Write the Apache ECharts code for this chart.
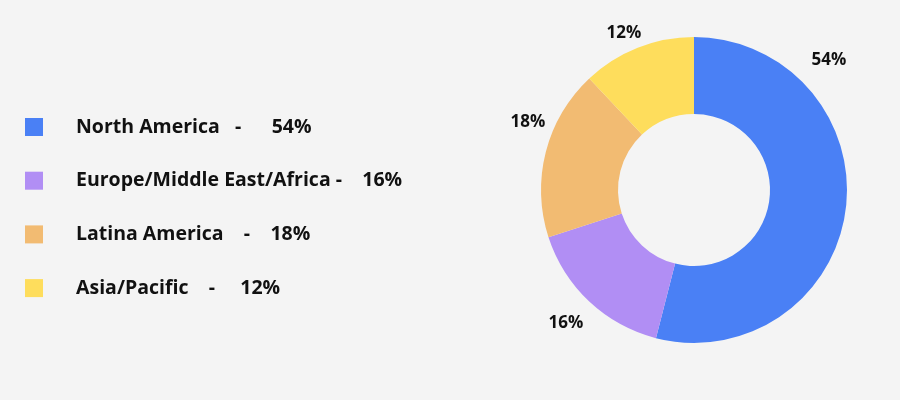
<!DOCTYPE html>
<html>
<head>
<meta charset="utf-8">
<script src="https://cdn.jsdelivr.net/npm/echarts@6/dist/echarts.min.js"></script>
<style>
  html, body { margin: 0; padding: 0; background: #f4f4f4; }
  #main { width: 900px; height: 400px; }
</style>
</head>
<body>
<div id="main"></div>
<script>
// data
var regions = ['North America', 'Europe/Middle East/Africa', 'Latina America', 'Asia/Pacific'];
var shares = [54, 16, 18, 12];
var legendText = ['North America   -      54%', 'Europe/Middle East/Africa -    16%', 'Latina America    -    18%', 'Asia/Pacific    -     12%'];
var colors = ['#4a80f5', '#b18ef4', '#f2bb72', '#fedd5c'];

// where the percentage labels sit around the ring
var labelSpots = [[829, 60], [566, 323], [528, 122], [624, 33]];

var myChart = echarts.init(document.getElementById('main'));

var option = {
    backgroundColor: '#f4f4f4',
    color: colors,
    legend: {
        orient: 'vertical',
        left: 20,
        top: 112,
        icon: 'rect',
        itemWidth: 18,
        itemHeight: 18,
        itemGap: 33.7,
        selectedMode: false,
        formatter: function (name) {
            return legendText[regions.indexOf(name)];
        },
        textStyle: {
            fontFamily: 'Open Sans',
            fontWeight: 'bold',
            fontSize: 19.5,
            color: '#111',
            padding: [0, 0, 0, 28]
        }
    },
    series: [{
        type: 'pie',
        center: [694, 190],
        radius: [76, 153],
        startAngle: 90,
        clockwise: true,
        avoidLabelOverlap: false,
        label: {
            show: true,
            position: 'outside',
            formatter: '{c}%',
            fontFamily: 'Open Sans',
            fontWeight: 'bold',
            fontSize: 17,
            color: '#111'
        },
        labelLine: { show: false },
        labelLayout: function (p) {
            var s = labelSpots[p.dataIndex];
            return { x: s[0], y: s[1], align: 'center', verticalAlign: 'middle' };
        },
        data: regions.map(function (r, i) {
            return { name: r, value: shares[i] };
        })
    }]
};

myChart.setOption(option);
</script>
</body>
</html>
